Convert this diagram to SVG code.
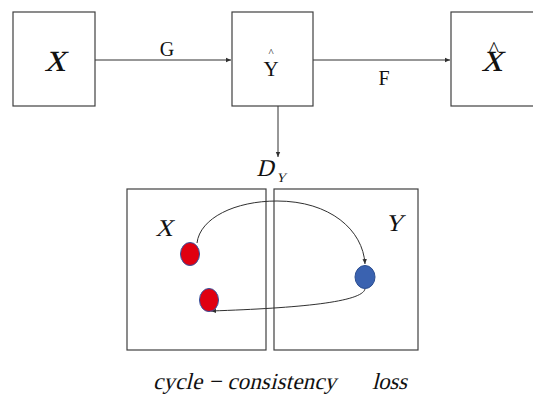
<svg xmlns="http://www.w3.org/2000/svg" width="533" height="394" viewBox="0 0 533 394">
<defs>
<style>
.box{fill:#fff;stroke:#404040;stroke-width:1.2}
.ln{fill:none;stroke:#303030;stroke-width:1}
.t{font-family:"Liberation Serif","Times New Roman",serif;fill:#111}
</style>
<marker id="ah" markerWidth="6" markerHeight="6" refX="5" refY="3" orient="auto" markerUnits="userSpaceOnUse">
<path d="M0,0.8 L5,3 L0,5.2 Z" fill="#303030"/>
</marker>
</defs>
<rect width="533" height="394" fill="#fff"/>
<g id="connectors">
<line class="ln" x1="95" y1="60" x2="231" y2="60" marker-end="url(#ah)"/>
<line class="ln" x1="313" y1="60" x2="450" y2="60" marker-end="url(#ah)"/>
<line class="ln" x1="278" y1="106" x2="278" y2="157" marker-end="url(#ah)"/>
</g>
<g id="node-x">
<rect class="box" x="13" y="12" width="82" height="94"/>
<g transform="translate(55,71) skewX(-14)"><text class="t" x="0" y="0" font-size="42" text-anchor="middle">x</text></g>
</g>
<g id="label-G"><text class="t" x="167" y="56" font-size="20" text-anchor="middle">G</text></g>
<g id="node-yhat">
<rect class="box" x="232" y="12" width="81" height="94"/>
<text class="t" x="271" y="56" font-size="11" text-anchor="middle">^</text>
<text class="t" x="271" y="76" font-size="21" text-anchor="middle">Y</text>
</g>
<g id="label-F"><text class="t" x="384" y="85" font-size="20" text-anchor="middle">F</text></g>
<g id="node-xhat">
<rect class="box" x="451" y="12" width="90" height="94"/>
<text class="t" x="494" y="56" font-size="22" text-anchor="middle">^</text>
<g transform="translate(492,71) skewX(-14)"><text class="t" x="0" y="0" font-size="42" text-anchor="middle">x</text></g>
</g>
<g id="label-DY">
<g transform="translate(265,176) skewX(-14)"><text class="t" x="0" y="0" font-size="24" text-anchor="middle">D</text></g>
<g transform="translate(281,182) skewX(-14)"><text class="t" x="0" y="0" font-size="13" text-anchor="middle">Y</text></g>
</g>
<g id="domain-X">
<rect class="box" x="127" y="189" width="139" height="161"/>
<g transform="translate(164,236) skewX(-14)"><text class="t" x="0" y="0" font-size="24" text-anchor="middle">X</text></g>
</g>
<g id="domain-Y">
<rect class="box" x="274" y="189" width="144" height="161"/>
<g transform="translate(394,231) skewX(-14)"><text class="t" x="0" y="0" font-size="24" text-anchor="middle">Y</text></g>
</g>
<g id="cycle">
<path class="ln" d="M197,243 C200,218 235,201 277,201 C330,201 363,230 365,264" marker-end="url(#ah)"/>
<path class="ln" d="M365,289 C362,302 300,308 211,311" marker-end="url(#ah)"/>
<ellipse cx="190" cy="254" rx="9.5" ry="11.5" fill="#e00010" stroke="#3050a0" stroke-width="1"/>
<ellipse cx="209" cy="300" rx="9.5" ry="11.5" fill="#e00010" stroke="#3050a0" stroke-width="1"/>
<ellipse cx="365" cy="277" rx="10" ry="11.5" fill="#3a62b0" stroke="#2c4e90" stroke-width="1"/>
</g>
<g id="caption">
<g transform="translate(153,389) skewX(-14)"><text class="t" x="0" y="0" font-size="23" textLength="183" lengthAdjust="spacing">cycle − consistency</text></g>
<g transform="translate(372,389) skewX(-14)"><text class="t" x="0" y="0" font-size="23" textLength="35" lengthAdjust="spacing">loss</text></g>
</g>
</svg>
